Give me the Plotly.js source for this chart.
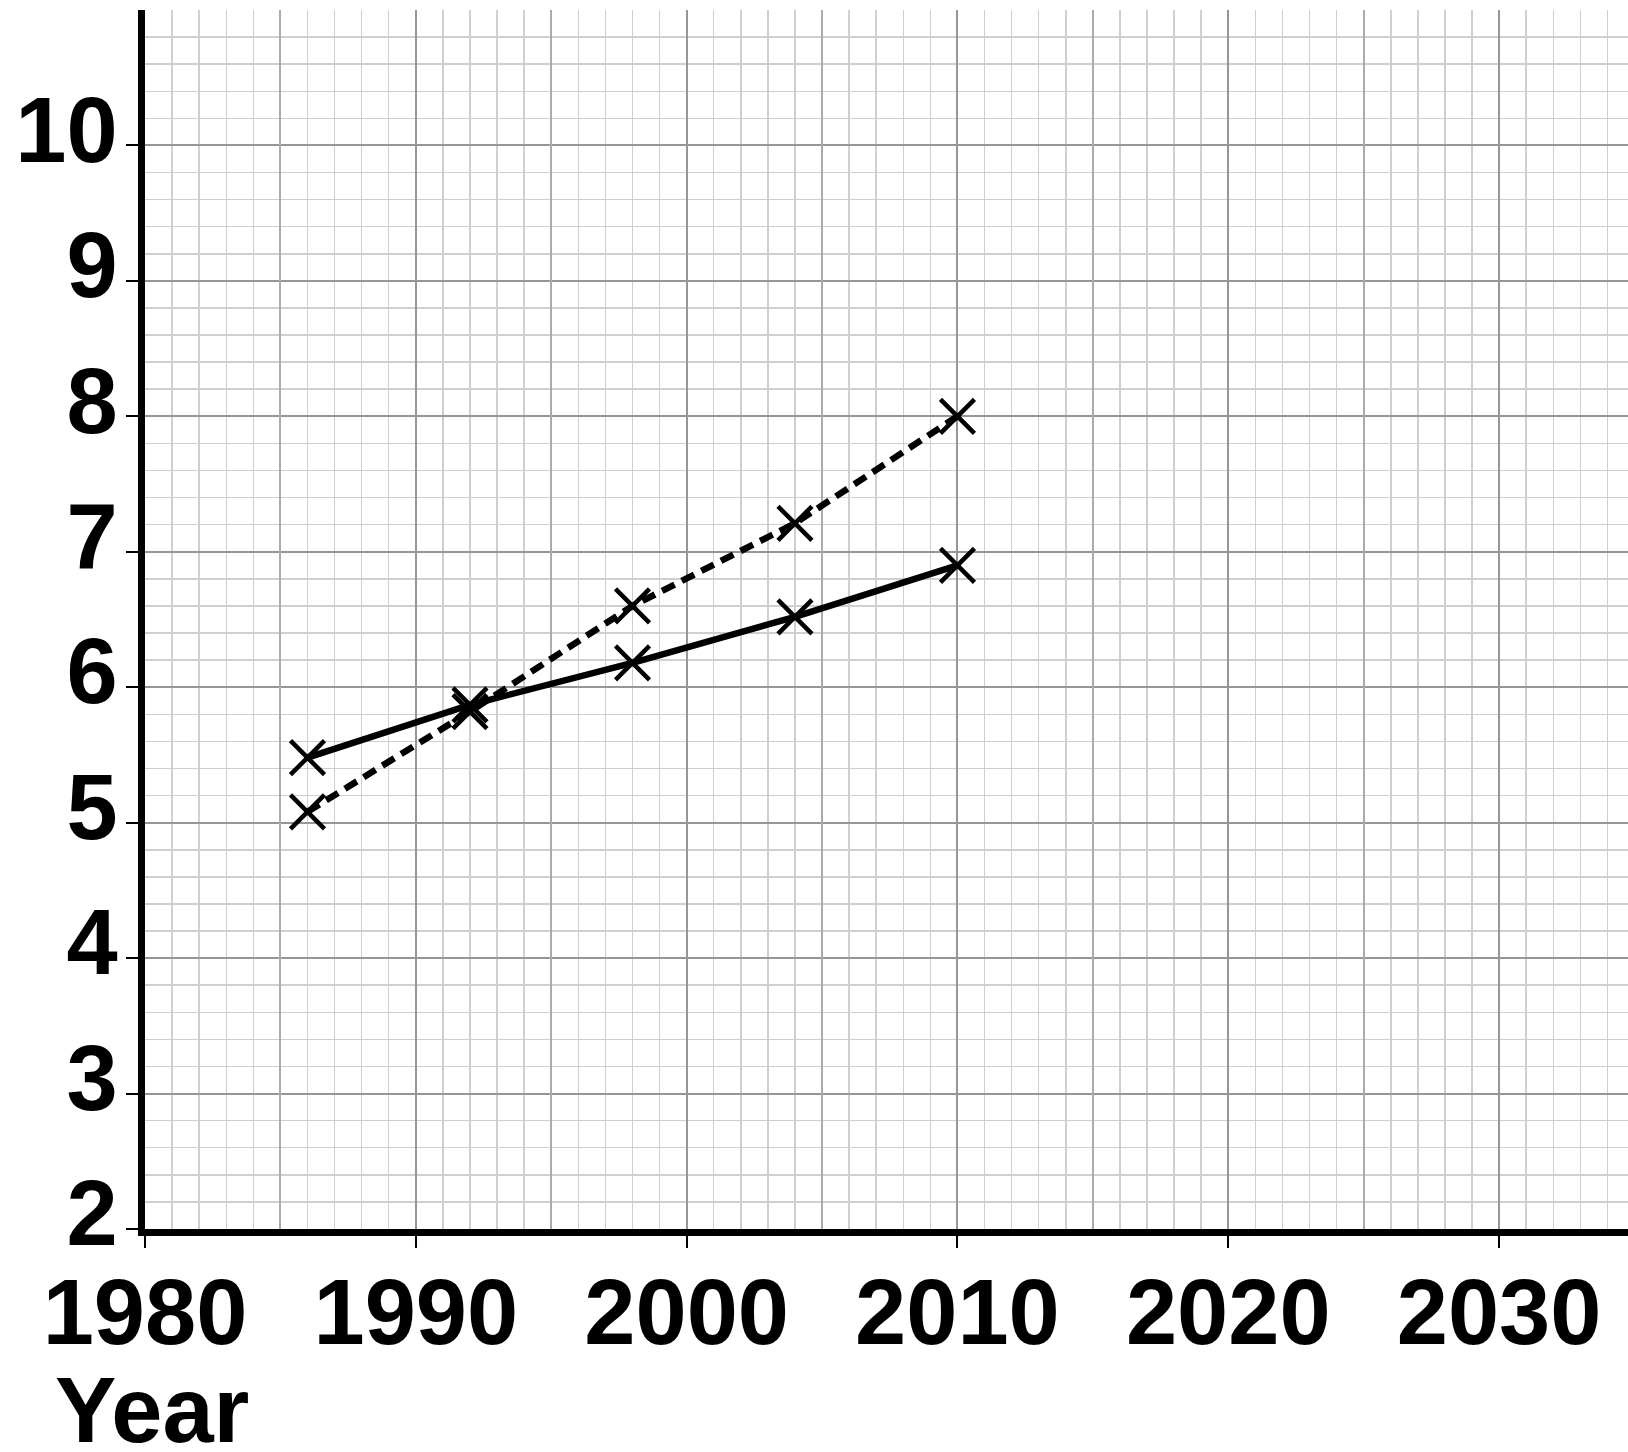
<!DOCTYPE html>
<html>
<head>
<meta charset="utf-8">
<script src="https://cdn.plot.ly/plotly-3.0.1.min.js"></script>
<style>
html,body{margin:0;padding:0;background:#fff;}
#chart{width:1628px;height:1452px;}
</style>
</head>
<body>
<div id="chart"></div>
<script>
// Data
const years = [1986, 1992, 1998, 2004, 2010];
const solidValues = [5.48, 5.87, 6.18, 6.52, 6.9];
const dashedValues = [5.08, 5.82, 6.6, 7.21, 8.0];
const xTickVals = [1980, 1990, 2000, 2010, 2020, 2030];
const yTickVals = [2, 3, 4, 5, 6, 7, 8, 9, 10];
const xAxisTitle = "Year";

const FONT = "Liberation Sans, Arial, sans-serif";

const markerStyle = {symbol: "x-thin-open", size: 34, color: "#000", line: {color: "#000", width: 4.5}};

const traces = [
  {
    x: years, y: solidValues, type: "scatter", mode: "lines+markers",
    line: {color: "#000", width: 6.5, dash: "solid"},
    marker: markerStyle, showlegend: false, hoverinfo: "x+y"
  },
  {
    x: years, y: dashedValues, type: "scatter", mode: "lines+markers",
    line: {color: "#000", width: 6.5, dash: "14px,8px"},
    marker: markerStyle, showlegend: false, hoverinfo: "x+y"
  },
  {x: [], y: [], xaxis: "x2", yaxis: "y", type: "scatter", mode: "markers", showlegend: false, hoverinfo: "skip"}
];

const layout = {
  width: 1628, height: 1452,
  paper_bgcolor: "#fff", plot_bgcolor: "#fff",
  margin: {l: 145, r: 0, t: 10, b: 223, pad: 0},
  showlegend: false,
  font: {family: FONT, color: "#000"},
  xaxis: {
    range: [1980, 2034.76],
    tickvals: xTickVals,
    ticktext: xTickVals.map(String),
    ticks: "outside", ticklen: 12, tickwidth: 2, tickcolor: "#000",
    showline: true, linewidth: 7, linecolor: "#000",
    showgrid: true, gridcolor: "#969696", gridwidth: 2,
    zeroline: false,
    tickfont: {family: FONT, size: 92, weight: "bold", color: "#000"},
    ticklabelstandoff: -14,
    minor: {dtick: 1, tick0: 1980, showgrid: true, gridcolor: "#cfcfcf", gridwidth: 1.5, ticks: ""},
    fixedrange: true
  },
  xaxis2: {
    overlaying: "x", matches: "x",
    range: [1980, 2034.76],
    tick0: 1985, dtick: 10,
    showticklabels: false, ticks: "", showline: false, zeroline: false,
    showgrid: true, gridcolor: "#ababab", gridwidth: 2,
    fixedrange: true
  },
  yaxis: {
    range: [2, 11],
    tickvals: yTickVals,
    ticktext: yTickVals.map(String),
    ticks: "outside", ticklen: 12, tickwidth: 2, tickcolor: "#000",
    showline: true, linewidth: 7, linecolor: "#000",
    showgrid: true, gridcolor: "#969696", gridwidth: 2,
    zeroline: false,
    tickfont: {family: FONT, size: 92, weight: "bold", color: "#000"},
    ticklabelshift: -16,
    ticklabelstandoff: -10,
    minor: {dtick: 0.2, tick0: 2, showgrid: true, gridcolor: "#cfcfcf", gridwidth: 1.5, ticks: ""},
    fixedrange: true
  },
  annotations: [{
    text: xAxisTitle, xref: "paper", yref: "paper",
    x: -0.062, y: -0.1485, xanchor: "left", yanchor: "middle",
    showarrow: false,
    font: {family: FONT, size: 92, weight: "bold", color: "#000"}
  }]
};

Plotly.newPlot("chart", traces, layout, {displayModeBar: false, staticPlot: true});
</script>
</body>
</html>
